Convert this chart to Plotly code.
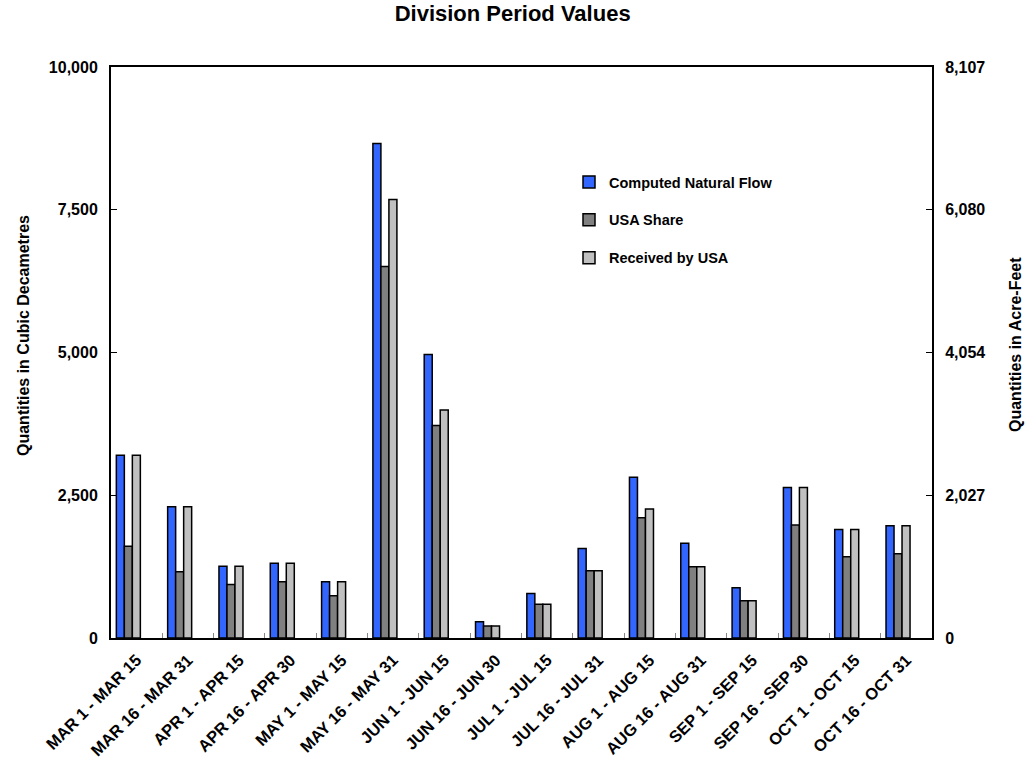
import plotly.graph_objects as go

# Half-month division periods
periods = [
    "MAR 1 - MAR 15", "MAR 16 - MAR 31", "APR 1 - APR 15", "APR 16 - APR 30",
    "MAY 1 - MAY 15", "MAY 16 - MAY 31", "JUN 1 - JUN 15", "JUN 16 - JUN 30",
    "JUL 1 - JUL 15", "JUL 16 - JUL 31", "AUG 1 - AUG 15", "AUG 16 - AUG 31",
    "SEP 1 - SEP 15", "SEP 16 - SEP 30", "OCT 1 - OCT 15", "OCT 16 - OCT 31",
]

# Volumes in cubic decametres
natural_flow = [3200, 2300, 1255, 1308, 987, 8660, 4965, 286,
                781, 1568, 2815, 1661, 880, 2634, 1900, 1964]
usa_share = [1606, 1162, 935, 987, 742, 6507, 3720, 210,
             589, 1177, 2104, 1247, 653, 1981, 1422, 1474]
received_usa = [3200, 2300, 1255, 1308, 987, 7681, 3995, 210,
                589, 1177, 2261, 1247, 653, 2634, 1900, 1964]

left_ticks = [0, 2500, 5000, 7500, 10000]
DAM3_TO_ACFT = 0.8107
right_ticks = [t * DAM3_TO_ACFT for t in left_ticks]
right_text = [f"{round(t):,}" for t in right_ticks]

FONT = "Arial, Liberation Sans, sans-serif"
BAR_W = 0.156
series = [
    ("Computed Natural Flow", natural_flow, "#3366FF", -0.396),
    ("USA Share", usa_share, "#808080", -0.240),
    ("Received by USA", received_usa, "#C0C0C0", -0.084),
]

fig = go.Figure()
for name, vals, color, off in series:
    fig.add_trace(go.Bar(
        x=periods, y=vals, name=f"<b>{name}</b>", legendgroup=name,
        width=BAR_W, offset=off,
        marker=dict(color=color, line=dict(color="#000000", width=1.5)),
    ))

# carrier trace so the acre-feet axis is drawn
fig.add_trace(go.Scatter(x=[periods[0]], y=[0], yaxis="y2", mode="markers",
                         marker=dict(opacity=0), showlegend=False,
                         hoverinfo="skip"))

PLOT_L, PLOT_R, PLOT_T, PLOT_B = 111, 932, 67, 638
PW, PH = PLOT_R - PLOT_L, PLOT_B - PLOT_T

fig.update_layout(
    width=1035, height=761,
    margin=dict(l=PLOT_L, r=1035 - PLOT_R, t=PLOT_T, b=761 - PLOT_B,
                autoexpand=False),
    paper_bgcolor="white", plot_bgcolor="white",
    font=dict(family=FONT, color="#000000"),
    barmode="overlay",
    title=dict(text="<b>Division Period Values</b>", x=0.4892, xref="paper",
               xanchor="center", y=0.982, yanchor="middle",
               font=dict(size=22, family=FONT)),
    xaxis=dict(
        type="category", tickangle=-45, tickson="boundaries",
        tickvals=periods, ticktext=[f"<b>{p}</b>" for p in periods],
        ticks="inside", ticklen=5, tickcolor="#888888", tickwidth=1,
        showline=True, linecolor="#000000", linewidth=2, mirror=True,
        showgrid=False, tickfont=dict(size=16.5, family=FONT),
        ticklabelstandoff=4, automargin=False,
        range=[-0.5, len(periods) - 0.5],
    ),
    yaxis=dict(
        range=[0, 10000], tickvals=left_ticks,
        ticktext=[f"<b>{v:,}</b>" for v in left_ticks],
        ticks="inside", ticklen=6, tickcolor="#000000", tickwidth=1,
        showline=True, linecolor="#000000", linewidth=2,
        showgrid=False, zeroline=False, ticklabelstandoff=8,
        tickfont=dict(size=16, family=FONT), automargin=False,
    ),
    yaxis2=dict(
        overlaying="y", side="right", range=[0, 10000 * DAM3_TO_ACFT],
        tickvals=right_ticks, ticktext=[f"<b>{t}</b>" for t in right_text],
        ticks="inside", ticklen=6, tickcolor="#000000", tickwidth=1,
        showline=True, linecolor="#000000", linewidth=2,
        showgrid=False, zeroline=False, ticklabelstandoff=8,
        tickfont=dict(size=16, family=FONT), automargin=False,
    ),
    legend=dict(
        x=(569 - PLOT_L) / PW, y=(PLOT_B - 166) / PH,
        xanchor="left", yanchor="top",
        traceorder="grouped", tracegroupgap=16,
        font=dict(size=14.5, family=FONT),
        bgcolor="rgba(0,0,0,0)", itemwidth=30,
    ),
    showlegend=True,
    annotations=[
        dict(text="<b>Quantities in Cubic Decametres</b>", textangle=-90,
             xref="paper", yref="paper", x=(23 - PLOT_L) / PW, y=(PLOT_B - 336) / PH,
             xanchor="center", yanchor="middle", showarrow=False,
             font=dict(size=16, family=FONT)),
        dict(text="<b>Quantities in Acre-Feet</b>", textangle=-90,
             xref="paper", yref="paper", x=(1015 - PLOT_L) / PW, y=(PLOT_B - 345) / PH,
             xanchor="center", yanchor="middle", showarrow=False,
             font=dict(size=16, family=FONT)),
    ],
)

fig.write_html("out.html")
